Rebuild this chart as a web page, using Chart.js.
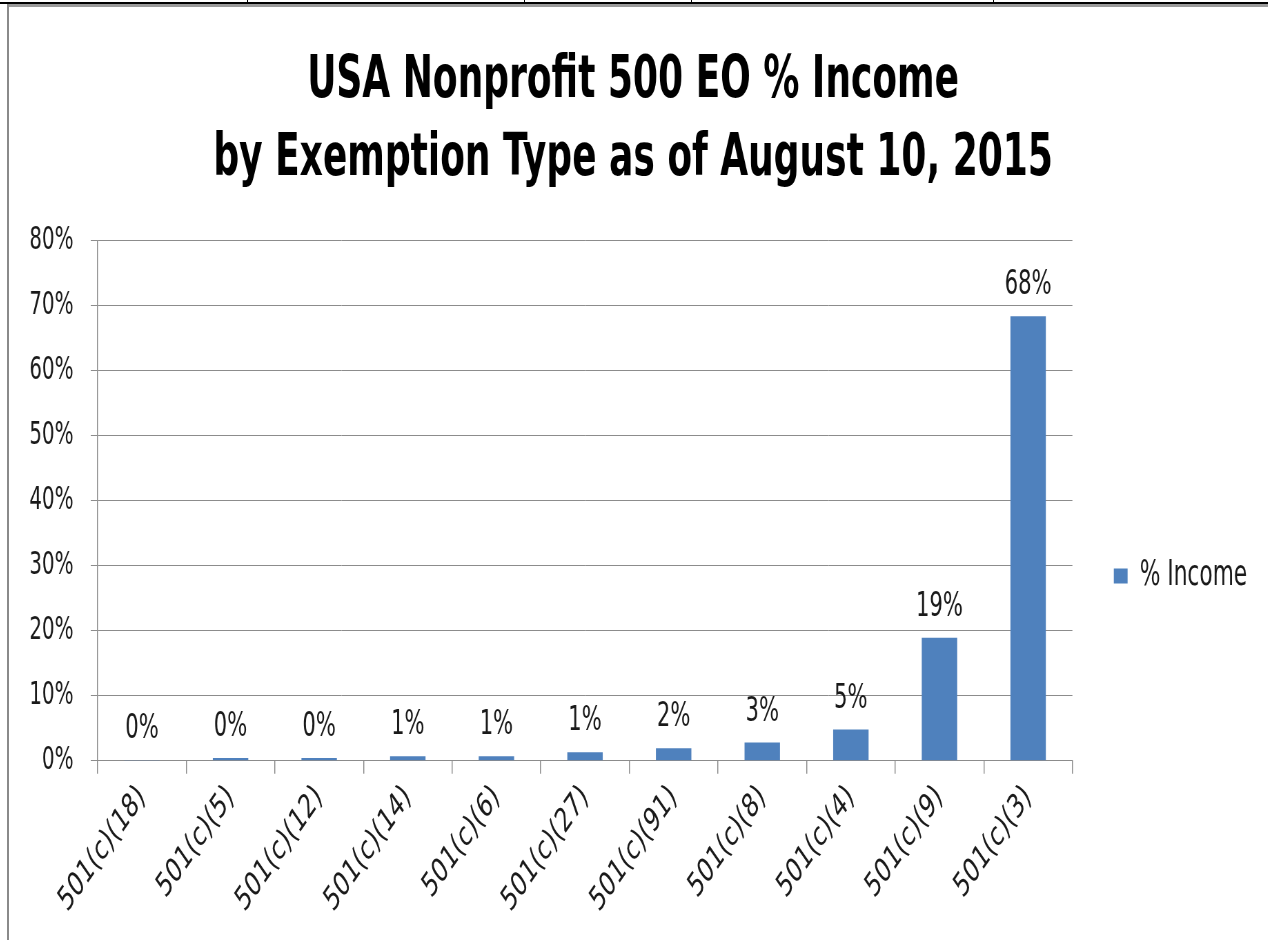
<!DOCTYPE html>
<html>
<head>
<meta charset="utf-8">
<script src="https://cdn.jsdelivr.net/npm/chart.js@4/dist/chart.umd.min.js"></script>
<style>
    html, body { margin: 0; padding: 0; background: #fff; }
    body { width: 1268px; height: 940px; position: relative; overflow: hidden; }
    .top-black { position: absolute; left: 0; top: 2px; width: 1268px; height: 2px; background: #000; }
    .top-gray { position: absolute; left: 8px; top: 4px; width: 1260px; height: 3px; background: #9a9a9a; }
    .left-gray { position: absolute; left: 7px; top: 4px; width: 2px; height: 936px; background: #8a8a8a; }
    .tick { position: absolute; top: 0; width: 1px; height: 3px; background: #000; }
    /* the source picture is squeezed sideways, so the chart is drawn wide and compressed */
    #wrap { position: absolute; left: 10px; top: 8px; width: 1823px; height: 932px;
            transform: scaleX(0.69); transform-origin: 0 0; }
</style>
</head>
<body>
<div class="top-black"></div>
<div class="top-gray"></div>
<div class="left-gray"></div>
<div class="tick" style="left:247px"></div>
<div class="tick" style="left:524px"></div>
<div class="tick" style="left:691px"></div>
<div class="tick" style="left:993px"></div>
<div id="wrap"><canvas id="chart"></canvas></div>
<script>
document.addEventListener('DOMContentLoaded', () => {
    // Chart data
    const categories = ['501(c)(18)', '501(c)(5)', '501(c)(12)', '501(c)(14)', '501(c)(6)', '501(c)(27)',
        '501(c)(91)', '501(c)(8)', '501(c)(4)', '501(c)(9)', '501(c)(3)'];
    const incomeShare = [0.05, 0.4, 0.4, 0.7, 0.7, 1.3, 1.9, 2.8, 4.8, 18.9, 68.4];
    const valueLabels = ['0%', '0%', '0%', '1%', '1%', '1%', '2%', '3%', '5%', '19%', '68%'];
    const yTicks = [0, 10, 20, 30, 40, 50, 60, 70, 80];

    const fontFamily = "'DejaVu Sans Condensed', 'Liberation Sans Narrow', sans-serif";
    const textColor = '#1a1a1a';
    const gridColor = '#8c8c8c';

    // Draw the value labels above each bar
    const barLabels = {
        id: 'barLabels',
        afterDatasetsDraw(chart) {
            const ctx = chart.ctx;
            const meta = chart.getDatasetMeta(0);
            ctx.save();
            ctx.font = '34px ' + fontFamily;
            ctx.fillStyle = textColor;
            ctx.textAlign = 'center';
            ctx.textBaseline = 'alphabetic';
            meta.data.forEach((bar, i) => {
                ctx.fillText(valueLabels[i], bar.x, bar.y - 22);
            });
            ctx.restore();
        }
    };

    new Chart(document.getElementById('chart').getContext('2d'), {
        type: 'bar',
        data: {
            labels: categories,
            datasets: [{
                label: '% Income',
                data: incomeShare,
                backgroundColor: '#4f81bd',
                borderWidth: 0,
                barPercentage: 0.4,
                categoryPercentage: 1.0
            }]
        },
        options: {
            responsive: true,
            maintainAspectRatio: false,
            animation: false,
            layout: { padding: { left: 3, right: 20, top: 34, bottom: 15 } },
            plugins: {
                title: {
                    display: true,
                    text: ['USA Nonprofit 500 EO % Income', 'by Exemption Type as of August 10, 2015'],
                    color: '#000',
                    font: { family: fontFamily, size: 58, weight: 'bold', lineHeight: 1.36 },
                    padding: { top: 0, bottom: 41 }
                },
                legend: {
                    position: 'right',
                    // empty legend title only pushes the entry down to where the source has it
                    title: { display: true, text: '', padding: { top: 184, bottom: 0 }, font: { size: 1 } },
                    labels: {
                        color: textColor,
                        boxWidth: 20,
                        boxHeight: 15,
                        padding: 60,
                        font: { family: fontFamily, size: 35 }
                    }
                },
                tooltip: { enabled: false }
            },
            scales: {
                x: {
                    grid: {
                        drawOnChartArea: false,
                        color: gridColor,
                        lineWidth: 1.45,
                        tickLength: 13,
                        offset: true
                    },
                    border: { color: gridColor, width: 1 },
                    ticks: {
                        color: textColor,
                        minRotation: 45,
                        maxRotation: 45,
                        padding: 4,
                        font: { family: fontFamily, size: 34 }
                    }
                },
                y: {
                    min: 0,
                    max: 80,
                    afterBuildTicks: (axis) => { axis.ticks = yTicks.map(v => ({ value: v })); },
                    grid: { color: gridColor, tickLength: 10 },
                    border: { color: gridColor, width: 1.45 },
                    ticks: {
                        color: textColor,
                        padding: 25,
                        font: { family: fontFamily, size: 32 },
                        callback: (v) => v + '%'
                    }
                }
            }
        },
        plugins: [barLabels]
    });
});
</script>
</body>
</html>
